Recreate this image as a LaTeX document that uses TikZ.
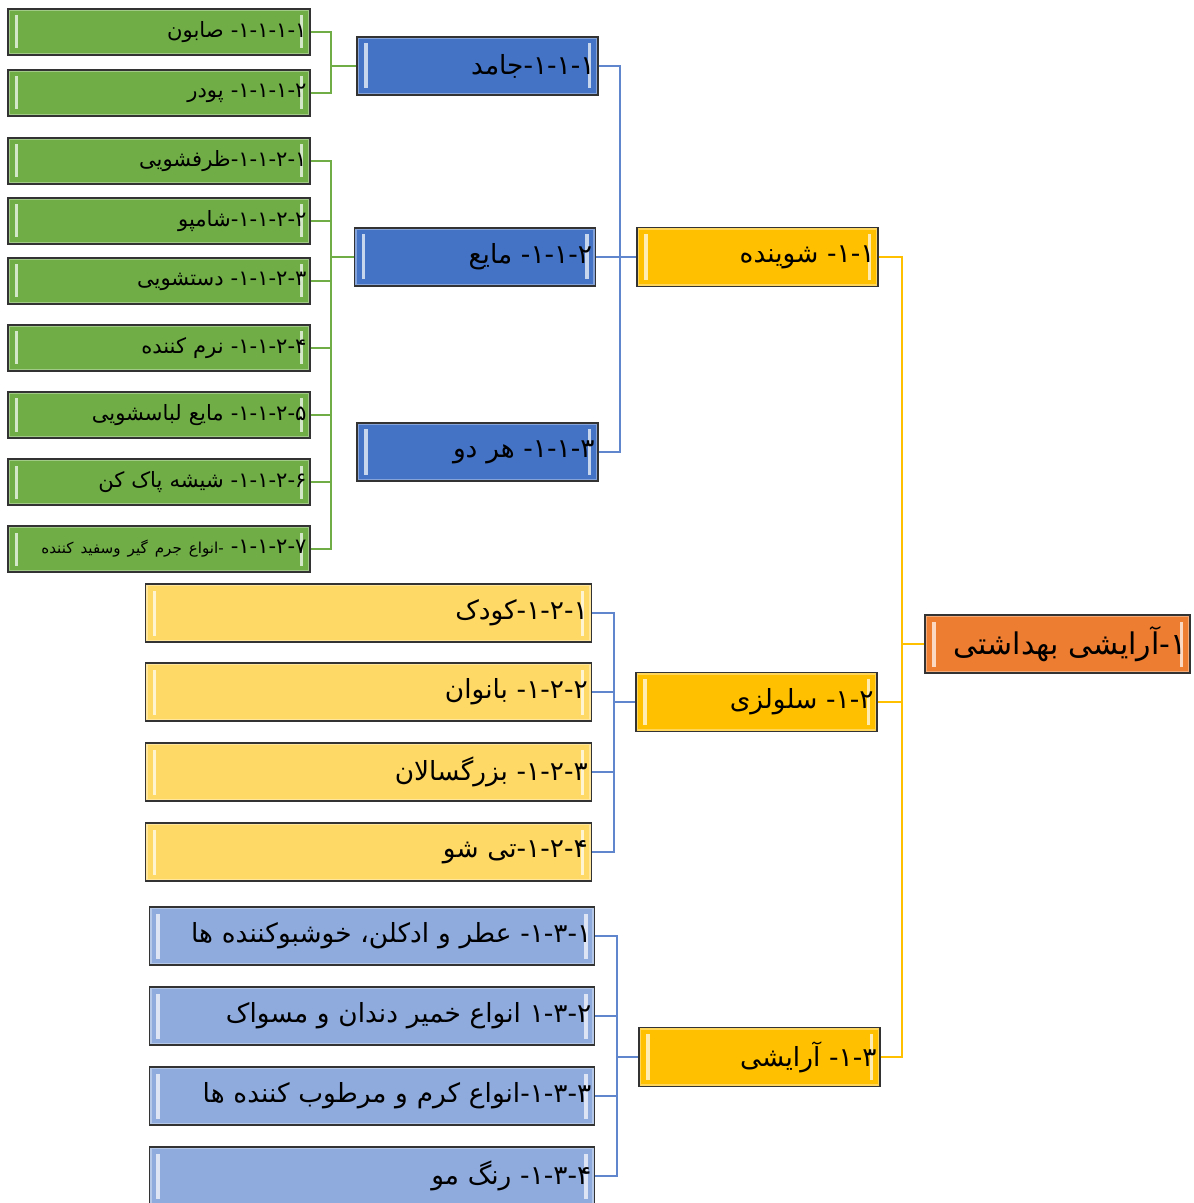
\documentclass[tikz,border=0pt]{standalone}
\usepackage{fontspec}
\newfontfamily\fa[Script=Arabic]{DejaVu Sans}
\TeXXeTstate=1
\usepackage{tikz}
\usetikzlibrary{calc}
\definecolor{grn}{HTML}{70AD47}
\definecolor{blu}{HTML}{4472C4}
\definecolor{gold}{HTML}{FFC000}
\definecolor{org}{HTML}{ED7D31}
\definecolor{lyel}{HTML}{FFD966}
\definecolor{lblu}{HTML}{8FAADC}
\tikzset{
  tbox/.style  = {draw=black!80, line width=0.7pt, fill=#1, align=right,
                  inner xsep=0.7mm, inner ysep=0pt, font=\fa,
                  path picture={
                    \draw[#1!65!white, line width=0.35mm]
                      ([shift={(0.3mm,-0.3mm)}]path picture bounding box.north west) rectangle
                      ([shift={(-0.3mm,0.3mm)}]path picture bounding box.south east);
                    \fill[#1!30!white]
                      ([shift={(1.4mm,-1.3mm)}]path picture bounding box.north west) rectangle
                      ([shift={(2.1mm,1.3mm)}]path picture bounding box.south west);
                    \fill[#1!30!white]
                      ([shift={(-1.4mm,-1.3mm)}]path picture bounding box.north east) rectangle
                      ([shift={(-2.1mm,1.3mm)}]path picture bounding box.south east);
                  }},
  leaf/.style  = {tbox=grn, text width=59mm, minimum height=9.2mm,
                  font=\fa\fontsize{12}{14}\selectfont},
  kind/.style  = {tbox=blu, text width=46.8mm, minimum height=11.6mm,
                  font=\fa\fontsize{15}{18}\selectfont},
  group/.style = {tbox=gold, text width=46.8mm, minimum height=11.8mm,
                  font=\fa\fontsize{15}{18}\selectfont},
  top/.style   = {tbox=org, text width=51.6mm, minimum height=11.6mm,
                  font=\fa\fontsize{17}{20}\selectfont},
  wide/.style  = {tbox=#1, text width=87.7mm, minimum height=11.6mm,
                  font=\fa\fontsize{15}{18}\selectfont},
  link/.style  = {draw=#1, line width=0.4mm},
}
% Persian digits one by one, so that \beginR puts the first one rightmost
\newcommand\pn[1]{\pnstep#1\relax}
\def\pnstep#1{\ifx#1\relax\else#1\kern0pt\relax\expandafter\pnstep\fi}

\begin{document}
\begin{tikzpicture}[x=0.2mm, y=-0.2mm]
  \clip (0,0) rectangle (1193,1203);

  % root and main groups
  \node[top]   (root) at (1057.5,644) {\beginR\pn{۱-}آرایشی بهداشتی\endR};
  \node[group] (det)  at (757.5,257)  {\beginR\pn{۱-۱-} شوینده\endR};
  \node[group] (cell) at (756.5,702)  {\beginR\pn{۲-۱-} سلولزی\endR};
  \node[group] (cosm) at (759.5,1057) {\beginR\pn{۳-۱-} آرایشی\endR};

  % detergents
  \node[kind] (solid)  at (477.5,66)  {\beginR\pn{۱-۱-۱-}جامد\endR};
  \node[kind] (liquid) at (475,257)   {\beginR\pn{۲-۱-۱-} مایع\endR};
  \node[kind] (both)   at (477.5,452) {\beginR\pn{۳-۱-۱-} هر دو\endR};

  \node[leaf] (soap)    at (159,32)  {\beginR\pn{۱-۱-۱-۱-} صابون\endR};
  \node[leaf] (powder)  at (159,93)  {\beginR\pn{۲-۱-۱-۱-} پودر\endR};
  \node[leaf] (dish)    at (159,161) {\beginR\pn{۱-۲-۱-۱-}ظرفشویی\endR};
  \node[leaf] (shampoo) at (159,221) {\beginR\pn{۲-۲-۱-۱-}شامپو\endR};
  \node[leaf] (hand)    at (159,281) {\beginR\pn{۳-۲-۱-۱-} دستشویی\endR};
  \node[leaf] (soft)    at (159,348) {\beginR\pn{۴-۲-۱-۱-} نرم کننده\endR};
  \node[leaf] (laundry) at (159,415) {\beginR\pn{۵-۲-۱-۱-} مایع لباسشویی\endR};
  \node[leaf] (glass)   at (159,482) {\beginR\pn{۶-۲-۱-۱-} شیشه پاک کن\endR};
  \node[leaf] (scale)   at (159,549)
    {\beginR\pn{۷-۲-۱-۱-} {\fontsize{8.6}{10}\selectfont\pn{-}انواع جرم گیر وسفید کننده}\endR};

  % cellulose
  \node[wide=lyel] (kid)    at (368.5,613) {\beginR\pn{۱-۲-۱-}کودک\endR};
  \node[wide=lyel] (lady)   at (368.5,692) {\beginR\pn{۲-۲-۱-} بانوان\endR};
  \node[wide=lyel] (adult)  at (368.5,772) {\beginR\pn{۳-۲-۱-} بزرگسالان\endR};
  \node[wide=lyel] (tissue) at (368.5,852) {\beginR\pn{۴-۲-۱-}تی شو\endR};

  % cosmetics
  \node[wide=lblu] (perf)  at (372,936)  {\beginR\pn{۱-۳-۱-} عطر و ادکلن، خوشبوکننده ها\endR};
  \node[wide=lblu] (paste) at (372,1016) {\beginR\pn{۲-۳-۱} انواع خمیر دندان و مسواک\endR};
  \node[wide=lblu] (cream) at (372,1096) {\beginR\pn{۳-۳-۱-}انواع کرم و مرطوب کننده ها\endR};
  \node[wide=lblu] (dye)   at (372,1176) {\beginR\pn{۴-۳-۱-} رنگ مو\endR};

  % connectors
  \coordinate (gx)  at (331,0);
  \coordinate (bx)  at (620,0);
  \coordinate (yx)  at (902,0);
  \coordinate (lyx) at (614,0);
  \coordinate (lbx) at (617,0);
  \foreach \c in {soap,powder}
    \draw[link=grn] (\c.east) -- (\c.east -| gx) |- (solid.west);
  \foreach \c in {dish,shampoo,hand,soft,laundry,glass,scale}
    \draw[link=grn] (\c.east) -- (\c.east -| gx) |- (liquid.west);
  \foreach \c in {solid,liquid,both}
    \draw[link=blu!85!white] (\c.east) -- (\c.east -| bx) |- (det.west);
  \foreach \c in {kid,lady,adult,tissue}
    \draw[link=blu!85!white] (\c.east) -- (\c.east -| lyx) |- (cell.west);
  \foreach \c in {perf,paste,cream,dye}
    \draw[link=blu!85!white] (\c.east) -- (\c.east -| lbx) |- (cosm.west);
  \foreach \c in {det,cell,cosm}
    \draw[link=gold] (\c.east) -- (\c.east -| yx) |- (root.west);
\end{tikzpicture}
\end{document}
